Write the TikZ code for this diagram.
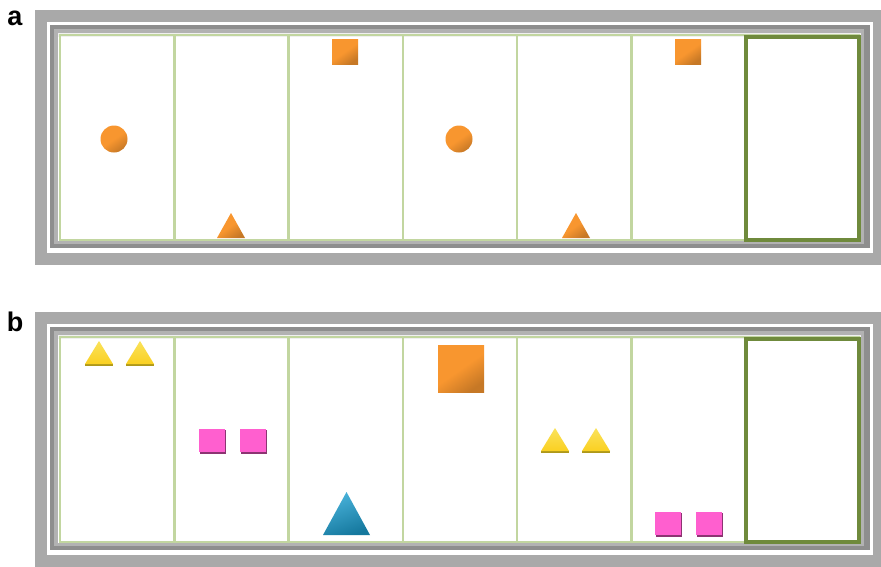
\documentclass[tikz,border=0pt]{standalone}
\usepackage{fontspec}
\setmainfont{Liberation Sans}
\usepackage{xcolor}

\definecolor{framegray}{HTML}{A9A9A9}
\definecolor{innergray}{HTML}{8E8E8E}
\definecolor{cellgreen}{HTML}{C2D6A0}
\definecolor{olive}{HTML}{6F8A3C}
\definecolor{shapeorange}{HTML}{F8962F}
\definecolor{shapepink}{HTML}{FF5FCF}
\definecolor{shapeyellow}{HTML}{F9D925}
\definecolor{shapeblue}{HTML}{1CA0D2}

\tikzset{
  panellabel/.style={font=\fontsize{27}{27}\selectfont\bfseries},
  orangeshape/.style={top color=shapeorange, bottom color=shapeorange!80!black, middle color=shapeorange, shading angle=35},
  pinkshape/.style={fill=shapepink},
  pinkshadow/.style={fill=shapepink!55!black},
  yellowshape/.style={top color=shapeyellow!75!white, bottom color=shapeyellow!90!orange},
  yellowshadow/.style={fill=shapeyellow!70!black},
  blueshape/.style={top color=shapeblue!80!white, bottom color=shapeblue!75!black, shading angle=20}
}

\begin{document}
\begin{tikzpicture}[x=1pt,y=-1pt]
    \useasboundingbox (0,0) rectangle (881,566);
    \fill[white] (0,0) rectangle (881,566);

    % two panels, second shifted down
    \foreach \yo in {0,302} {
        \begin{scope}[yshift=-\yo]
            \draw[framegray, line width=12] (41,16) rectangle (879,259);
            \fill[innergray] (50,25) rectangle (870,248);
            \fill[gray!60] (54,29) rectangle (864,244);
            \fill[white] (58,33) rectangle (861,241);
            \fill[gray!12] (58,33) rectangle (861,37);
            % cell walls
            \draw[cellgreen, line width=2.4] (60,35) rectangle (859,240);
            \foreach \i in {1,...,5}
                \draw[cellgreen, line width=2.4] (60+114.3*\i,35) -- (60+114.3*\i,240);
            % empty target cell
            \draw[olive, line width=4] (745.5,36.5) rectangle (859,240);
        \end{scope}
    }

    \node[panellabel] (laba) at (15,18) {a};
    \node[panellabel] (labb) at (15,322) {b};

    % panel a shapes
    \foreach \cx in {114,459}
        \shade[orangeshape] (\cx,139) circle (13.5);
    \foreach \cx in {231,576}
        \shade[orangeshape] (\cx-14,238) -- (\cx+14,238) -- (\cx,213) -- cycle;
    \foreach \cx in {345,688}
        \shade[orangeshape] (\cx-13,39) rectangle (\cx+13,64);

    % panel b shapes
    \foreach \cx/\by in {99/366,140/366,555/453,596/453} {
        \fill[yellowshadow] (\cx-14,\by) rectangle (\cx+14,\by-2);
        \shade[yellowshape] (\cx-14,\by-2) -- (\cx+14,\by-2) -- (\cx,\by-25) -- cycle;
    }
    \foreach \cx/\cy in {212/441,253/441,668/524,709/524} {
        \fill[pinkshadow] (\cx-12,\cy-11) rectangle (\cx+14,\cy+13);
        \fill[pinkshape] (\cx-13,\cy-12) rectangle (\cx+13,\cy+11);
    }
    \shade[blueshape] (323,535) -- (370,535) -- (346.5,492) -- cycle;
    \shade[orangeshape] (438,345) rectangle (484,392);
\end{tikzpicture}
\end{document}
